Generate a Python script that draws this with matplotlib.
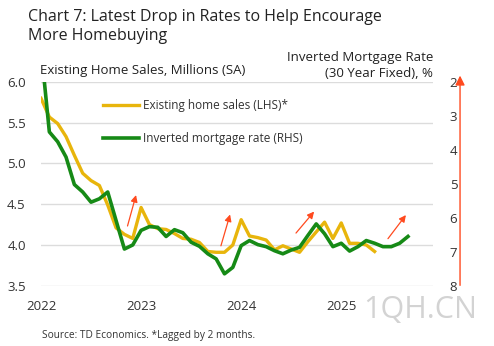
import matplotlib.pyplot as plt
import numpy as np

plt.rcParams['font.family'] = ['Open Sans', 'DejaVu Sans']

# Existing home sales (millions, SA), monthly from Jan 2022 (lagged 2 months)
sales = [5.80, 5.57, 5.49, 5.33, 5.10, 4.88, 4.79, 4.73, 4.49, 4.21, 4.13, 4.08,
         4.46, 4.25, 4.20, 4.19, 4.14, 4.08, 4.07, 4.03, 3.92, 3.91, 3.91, 4.00,
         4.31, 4.11, 4.09, 4.06, 3.94, 3.99, 3.95, 3.91, 4.04, 4.16, 4.28, 4.08,
         4.27, 4.02, 4.02, 4.00, 3.92]

# 30 year fixed mortgage rate (%), monthly from Jan 2022, plotted inverted
mortgage = [1.00, 3.47, 3.76, 4.21, 5.02, 5.24, 5.54, 5.44, 5.24, 6.08, 6.92, 6.80,
            6.37, 6.26, 6.28, 6.55, 6.35, 6.44, 6.72, 6.84, 7.06, 7.21, 7.65, 7.46,
            6.82, 6.67, 6.79, 6.85, 6.97, 7.06, 6.95, 6.87, 6.52, 6.18, 6.47, 6.85,
            6.75, 6.98, 6.85, 6.67, 6.75, 6.85, 6.85, 6.75, 6.55]

years = [2022, 2023, 2024, 2025]

x_sales = 2022 + np.arange(len(sales)) / 12
x_rate = 2022 + np.arange(len(mortgage)) / 12

yellow = '#E8B50C'
green = '#168A16'
red = '#FF4A1F'

fig = plt.figure(figsize=(4.94, 3.46), dpi=100)
ax = fig.add_axes([0.083, 0.1743, 0.7935, 0.5887])
ax2 = ax.twinx()

ax.set_xlim(2022, 2022 + 47 / 12)
ax.set_ylim(3.5, 6.0)
ax2.set_ylim(8, 2)

ax.set_yticks([3.5, 4.0, 4.5, 5.0, 5.5, 6.0])
ax.set_yticklabels(['3.5', '4.0', '4.5', '5.0', '5.5', '6.0'])
ax2.set_yticks([2, 3, 4, 5, 6, 7, 8])
ax.set_xticks(years)
ax.set_xticklabels([str(y) for y in years])

ax.grid(axis='y', color='#dcdcdc', linewidth=1)
ax.set_axisbelow(True)
for a in (ax, ax2):
	for s in a.spines.values():
		s.set_visible(False)
	a.tick_params(length=0, labelsize=9.5, colors='#333333')
ax.tick_params(axis='x', pad=10)
ax.tick_params(axis='y', pad=11)
ax2.tick_params(axis='y', pad=12)

l1, = ax.plot(x_sales, sales, color=yellow, linewidth=2.4, zorder=3)
l2, = ax2.plot(x_rate, mortgage, color=green, linewidth=2.6, zorder=4)

ax2.legend([l1, l2], ['Existing home sales (LHS)*', 'Inverted mortgage rate (RHS)'],
	loc='upper left', bbox_to_anchor=(0.13, 0.97), frameon=False, fontsize=8.5,
	handlelength=3.1, handletextpad=0.3, labelspacing=1.75,
	labelcolor='#333333')

# small arrows
arrows = [((2022.857, 4.20), (2022.957, 4.645)),
          ((2023.79, 3.957), (2023.897, 4.407)),
          ((2024.53, 4.12), (2024.747, 4.436)),
          ((2025.45, 4.05), (2025.663, 4.394))]
for tail, head in arrows:
	ax.annotate('', xy=head, xytext=tail,
		arrowprops=dict(arrowstyle='-|>', color=red, lw=0.9, mutation_scale=10),
		zorder=5)

# big arrow on the right
ax.annotate('', xy=(1.069, 1.045), xytext=(1.069, -0.012), xycoords='axes fraction',
	textcoords='axes fraction',
	arrowprops=dict(arrowstyle='-|>', color=red, lw=1.0, mutation_scale=14),
	annotation_clip=False)

fig.text(0.057, 0.975, 'Chart 7: Latest Drop in Rates to Help Encourage',
	fontsize=11.5, color='#222222', va='top')
fig.text(0.057, 0.92, 'More Homebuying',
	fontsize=11.5, color='#222222', va='top')
fig.text(0.081, 0.785, 'Existing Home Sales, Millions (SA)', fontsize=9.5, color='#222222')
fig.text(0.877, 0.778, 'Inverted Mortgage Rate\n(30 Year Fixed), %', fontsize=9.5,
	color='#222222', ha='right', linespacing=1.3)
fig.text(0.085, 0.022, 'Source: TD Economics. *Lagged by 2 months.', fontsize=7.3, color='#333333')
fig.text(0.965, 0.08, '1QH.CN', fontsize=22, color='#c8c8c8', ha='right', alpha=0.8)

fig.savefig('out.png', dpi=100)
